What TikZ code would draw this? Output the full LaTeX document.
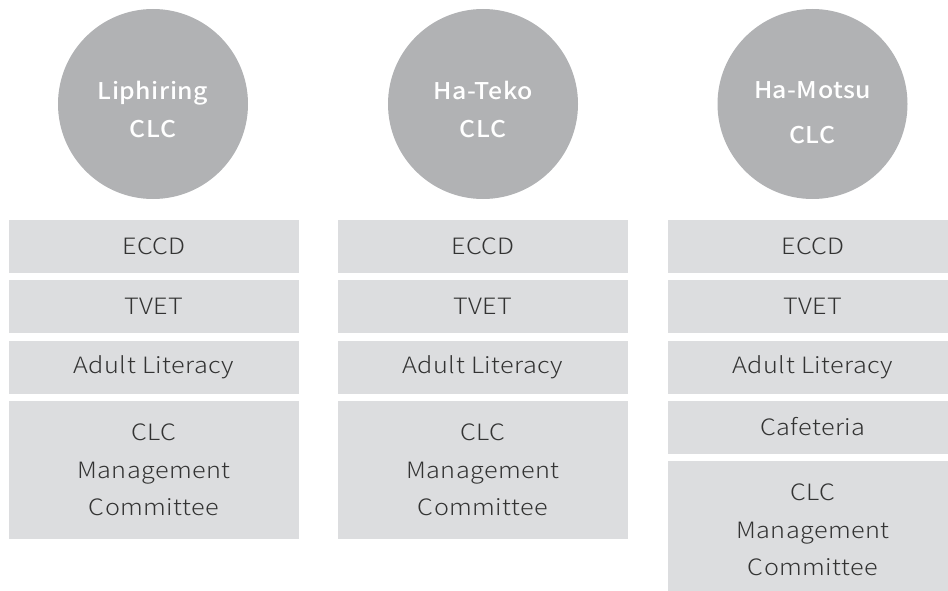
\documentclass[tikz,border=0pt]{standalone}
\usepackage{fontspec}
\setmainfont{Noto Sans CJK KR}[UprightFont=* Light, BoldFont=* Medium, RawFeature={-liga;-clig}]
\definecolor{discgray}{HTML}{B1B2B4}
\definecolor{boxgray}{HTML}{DCDDDF}
\definecolor{inkgray}{HTML}{333333}
\newcommand{\discfont}[1]{\fontsize{23}{#1}\selectfont\bfseries\addfontfeatures{FakeStretch=1.08, LetterSpace=2}}
\tikzset{
  disc/.style={circle, fill=discgray, minimum size=190pt, inner sep=0pt},
  disctext/.style={text=white, align=center, font=\discfont{38}},
  itembox/.style={rectangle, fill=boxgray, minimum width=290pt, inner sep=0pt,
    text=inkgray, align=center, font=\fontsize{22.5}{37.5}\selectfont\addfontfeatures{FakeStretch=1.12, LetterSpace=2}},
  onerow/.style={itembox, minimum height=53pt},
  bigbox/.style={itembox, minimum height=138pt}
}
\begin{document}
\begin{tikzpicture}[x=1pt, y=-1pt]
\useasboundingbox (0,0) rectangle (948,591);
\clip (0,0) rectangle (948,591);

% Liphiring column
\node[disc] (c1) at (153,104) {};
\node[disctext] (t1) at (153,109) {Liphiring\\CLC};
\node[onerow] (a1) at (154,246.5) {ECCD};
\node[onerow] (b1) at (154,306.5) {TVET};
\node[onerow] (d1) at (154,367.5) {Adult Literacy};
\node[bigbox] (m1) at (154,470) {CLC\\Management\\Committee};

% Ha-Teko column
\node[disc] (c2) at (483,104) {};
\node[disctext] (t2) at (483,109) {Ha-Teko\\CLC};
\node[onerow] (a2) at (483,246.5) {ECCD};
\node[onerow] (b2) at (483,306.5) {TVET};
\node[onerow] (d2) at (483,367.5) {Adult Literacy};
\node[bigbox] (m2) at (483,470) {CLC\\Management\\Committee};

% Ha-Motsu column: wider line gap in the disc
\node[disc] (c3) at (812.5,104) {};
\node[disctext, font=\discfont{45}] (t3) at (812.5,113) {Ha-Motsu\\CLC};
\node[onerow] (a3) at (813,246.5) {ECCD};
\node[onerow] (b3) at (813,306.5) {TVET};
\node[onerow] (d3) at (813,367.5) {Adult Literacy};
\node[onerow] (e3) at (813,427) {Cafeteria};
\node[bigbox] (m3) at (813,530) {CLC\\Management\\Committee};
\end{tikzpicture}
\end{document}
